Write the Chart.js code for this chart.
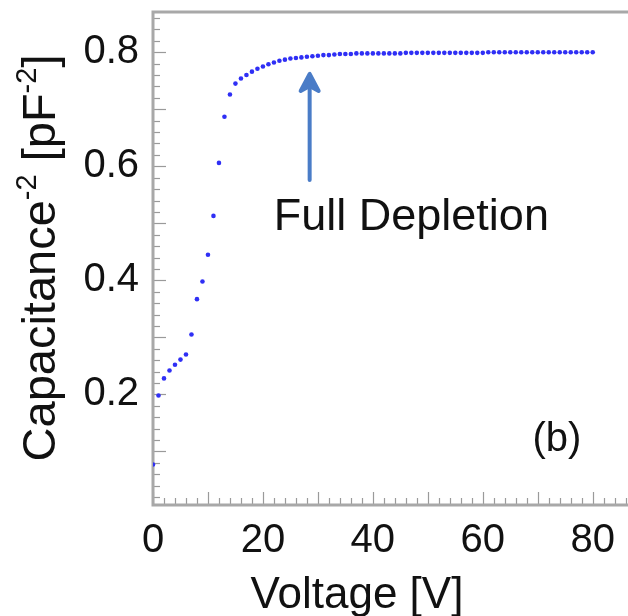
<!DOCTYPE html>
<html>
<head>
<meta charset="utf-8">
<script src="https://cdn.jsdelivr.net/npm/chart.js@4"></script>
<style>
  html, body { margin: 0; padding: 0; background: #fff; }
  #cvChart { display: block; }
</style>
</head>
<body>
<canvas id="cvChart" width="628" height="616"></canvas>
<script>
// bias voltage [V], one reading per volt
const voltage = [
  0, 1, 2, 3, 4, 5, 6, 7, 8, 9,
  10, 11, 12, 13, 14, 15, 16, 17, 18, 19,
  20, 21, 22, 23, 24, 25, 26, 27, 28, 29,
  30, 31, 32, 33, 34, 35, 36, 37, 38, 39,
  40, 41, 42, 43, 44, 45, 46, 47, 48, 49,
  50, 51, 52, 53, 54, 55, 56, 57, 58, 59,
  60, 61, 62, 63, 64, 65, 66, 67, 68, 69,
  70, 71, 72, 73, 74, 75, 76, 77, 78, 79,
  80
];

// 1/C^2 [pF^-2]
const capInvSq = [
  0.077, 0.198, 0.228, 0.242, 0.252, 0.261, 0.270, 0.305, 0.367, 0.398,
  0.445, 0.513, 0.606, 0.687, 0.726, 0.745, 0.754, 0.760, 0.766, 0.771,
  0.775, 0.779, 0.782, 0.785, 0.787, 0.789, 0.790, 0.791, 0.792, 0.793,
  0.794, 0.795, 0.795, 0.796, 0.797, 0.797, 0.797, 0.798, 0.798, 0.798,
  0.798, 0.798, 0.798, 0.798, 0.798, 0.798, 0.799, 0.799, 0.799, 0.799,
  0.799, 0.799, 0.799, 0.799, 0.799, 0.799, 0.799, 0.799, 0.799, 0.799,
  0.799, 0.800, 0.800, 0.800, 0.800, 0.800, 0.800, 0.800, 0.800, 0.800,
  0.800, 0.800, 0.800, 0.800, 0.800, 0.800, 0.800, 0.800, 0.800, 0.800,
  0.800
];

const xTickLabels = [0, 20, 40, 60, 80];
const yTickLabels = [0.2, 0.4, 0.6, 0.8];

const FONT = '"Liberation Sans", Arial, Helvetica, sans-serif';
const AXIS_GREY = '#a8a8a8';

let points = voltage.map((v, i) => ({ x: v, y: capInvSq[i] }));

// inward tick marks + frame, drawn off the scales
const frameTicks = {
  id: 'frameTicks',
  beforeDatasetsDraw(chart) {
    let { ctx, chartArea: a, scales: { x, y } } = chart;
    ctx.save();
    ctx.strokeStyle = '#9a9a9a';
    ctx.lineWidth = 1.2;
    x.ticks.forEach(t => {
      let px = Math.round(x.getPixelForValue(t.value)) + 0.5;
      let len = (t.value % 10 === 0) ? 13 : 7;
      ctx.beginPath();
      ctx.moveTo(px, a.bottom);
      ctx.lineTo(px, a.bottom - len);
      ctx.stroke();
    });
    y.ticks.forEach(t => {
      let py = Math.round(y.getPixelForValue(t.value)) + 0.5;
      let k = Math.round(t.value * 100);
      let len = (k % 10 === 0) ? 13 : 7;
      ctx.beginPath();
      ctx.moveTo(a.left, py);
      ctx.lineTo(a.left + len, py);
      ctx.stroke();
    });
    ctx.strokeStyle = AXIS_GREY;
    ctx.lineWidth = 3;
    ctx.beginPath();
    ctx.moveTo(chart.width, a.top);
    ctx.lineTo(a.left, a.top);
    ctx.lineTo(a.left, a.bottom);
    ctx.lineTo(chart.width, a.bottom);
    ctx.stroke();
    ctx.restore();
  },
  afterDatasetsDraw(chart) {
    let { ctx, scales: { x, y } } = chart;
    ctx.save();

    // arrow pointing at the depletion knee
    let ax = x.getPixelForValue(28.5);
    let ay0 = y.getPixelForValue(0.576);
    let ay1 = y.getPixelForValue(0.762);
    ctx.strokeStyle = '#4a7cc7';
    ctx.fillStyle = '#4a7cc7';
    ctx.lineWidth = 4;
    ctx.lineCap = 'round';
    ctx.beginPath();
    ctx.moveTo(ax, ay0);
    ctx.lineTo(ax, ay1 + 6);
    ctx.stroke();
    ctx.lineJoin = 'round';
    ctx.beginPath();
    ctx.moveTo(ax, ay1);
    ctx.lineTo(ax - 9, ay1 + 17);
    ctx.lineTo(ax, ay1 + 12);
    ctx.lineTo(ax + 9, ay1 + 17);
    ctx.closePath();
    ctx.fill();
    ctx.stroke();

    ctx.fillStyle = '#111';
    ctx.textBaseline = 'alphabetic';
    ctx.textAlign = 'center';
    ctx.font = '45px ' + FONT;
    ctx.fillText('Full Depletion', x.getPixelForValue(47), y.getPixelForValue(0.489));
    ctx.font = '40px ' + FONT;
    ctx.fillText('(b)', x.getPixelForValue(73.5), y.getPixelForValue(0.1));

    // x title, centred under the figure rather than the plot
    ctx.font = '44px ' + FONT;
    ctx.fillText('Voltage [V]', 357, 608);

    // y title with superscripts
    let parts = [
      ['Capacitance', 47, 0],
      ['-2', 29, -19],
      [' [pF', 47, 0],
      ['-2', 29, -19],
      [']', 47, 0]
    ];
    let total = 0;
    parts.forEach(p => {
      ctx.font = p[1] + 'px ' + FONT;
      total += ctx.measureText(p[0]).width;
    });
    ctx.translate(38, 258);
    ctx.rotate(-Math.PI / 2);
    ctx.textAlign = 'left';
    let cx = -total / 2;
    parts.forEach(p => {
      ctx.font = p[1] + 'px ' + FONT;
      ctx.fillText(p[0], cx, 17 + p[2]);
      cx += ctx.measureText(p[0]).width;
    });
    ctx.restore();
  }
};

new Chart(document.getElementById('cvChart'), {
  type: 'scatter',
  data: {
    datasets: [{
      data: points,
      backgroundColor: '#2f2ff5',
      borderWidth: 0,
      pointRadius: 2.3,
      pointHoverRadius: 2.3
    }]
  },
  options: {
    responsive: false,
    animation: false,
    events: [],
    layout: { padding: { top: 12, right: 0, left: 0, bottom: 0 } },
    plugins: { legend: { display: false }, tooltip: { enabled: false } },
    scales: {
      x: {
        type: 'linear',
        min: 0,
        max: 86,
        grid: { display: false, drawTicks: false },
        border: { display: false },
        afterBuildTicks(scale) {
          let t = [];
          for (let v = 0; v <= 86; v += 2) t.push({ value: v });
          scale.ticks = t;
        },
        afterFit(scale) {
          scale.height = 111;
          scale.paddingLeft = 0;
          scale.paddingRight = 0;
        },
        ticks: {
          autoSkip: false,
          maxRotation: 0,
          padding: 12,
          color: '#111',
          font: { family: FONT, size: 40 },
          callback: v => xTickLabels.includes(v) ? String(v) : ''
        }
      },
      y: {
        type: 'linear',
        min: 0.006,
        max: 0.8706,
        grid: { display: false, drawTicks: false },
        border: { display: false },
        afterBuildTicks(scale) {
          let t = [];
          for (let k = 1; k <= 43; k++) t.push({ value: k / 50 });
          scale.ticks = t;
        },
        afterFit(scale) {
          scale.width = 153;
          scale.paddingTop = 0;
          scale.paddingBottom = 0;
        },
        ticks: {
          autoSkip: false,
          padding: 14,
          color: '#111',
          font: { family: FONT, size: 40 },
          callback: v => {
            let hit = yTickLabels.find(t => Math.abs(t - v) < 1e-6);
            return hit === undefined ? '' : hit.toFixed(1);
          }
        }
      }
    }
  },
  plugins: [frameTicks]
});
</script>
</body>
</html>
